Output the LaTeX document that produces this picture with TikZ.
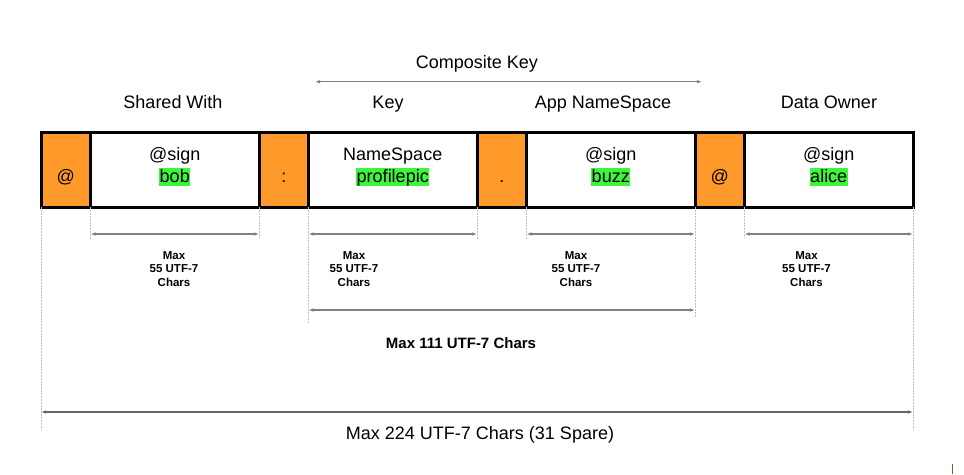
\documentclass[tikz,border=0pt]{standalone}
\usepackage{fontspec}
\setmainfont{Liberation Sans}
\usetikzlibrary{positioning,arrows.meta}
\definecolor{keyorange}{RGB}{255,153,41}
\definecolor{hlgreen}{RGB}{61,245,61}
\newcommand{\Hilite}[1]{{\setlength{\fboxsep}{0.6pt}\colorbox{hlgreen}{\rule[-3.6pt]{0pt}{16.6pt}#1}}}
\tikzset{ %inner sep = 0.5mm,
  >={Latex[length=5pt,width=3.5pt]},
  {cell/.style} ={rectangle,draw=black,line width=3pt,inner sep=0,outer sep=0,
    minimum height=75pt,text height=25pt,text depth=0pt,align=center,
    font=\fontsize{18}{22}\selectfont},
  {sep/.style} ={cell,fill=keyorange,minimum width=49.5pt},
  {field/.style} ={cell,fill=white,minimum width=168.5pt},
  {head/.style} ={anchor=base,font=\fontsize{18}{22}\selectfont},
  {note/.style} ={align=center,font=\bfseries\fontsize{11.5}{13.8}\selectfont},
  {guide/.style} ={draw=black!25,line width=0.8pt,dash pattern=on 1.5pt off 1.5pt},
  {dim/.style} ={draw=black!50,line width=1.3pt,<->},
 }
\begin{document}
\begin{tikzpicture}[x=1pt,y=-1pt]
        \useasboundingbox (0,0) rectangle (964,474);
        \node[sep] (at1) at (65.75,169.5) {@};
        \node[field] (sw) [right=0pt of at1] {@sign\\\Hilite{bob}};
        \node[sep] (colon) [right=0pt of sw] {:};
        \node[field] (ns) [right=0pt of colon] {NameSpace\\\Hilite{profilepic}};
        \node[sep] (dot) [right=0pt of ns] {.};
        \node[field] (app) [right=0pt of dot] {@sign\\\Hilite{buzz}};
        \node[sep] (at2) [right=0pt of app] {@};
        \node[field] (own) [right=0pt of at2] {@sign\\\Hilite{alice}};
        % headings
        \node[head] (ck) at (477,68) {Composite Key};
        \coordinate (ck-w) at (315,81.7);
        \coordinate (ck-e) at (702,81.7);
        \path[dim] (ck-w) -- (ck-e);
        \node[head] (sw-head) at (173,108) {Shared With};
        \node[head] (ns-head) at (388,108) {Key};
        \node[head] (app-head) at (603,108) {App NameSpace};
        \node[head] (own-head) at (829,108) {Data Owner};
        % guides
        \path[guide] (at1.south west) -- ++(0,223);
        \path[guide] (sw.south west) -- ++(0,33);
        \path[guide] (sw.south east) -- ++(0,31);
        \path[guide] (ns.south west) -- ++(0,116);
        \path[guide] (ns.south east) -- ++(0,33);
        \path[guide] (app.south west) -- ++(0,33);
        \path[guide] (app.south east) -- ++(0,111);
        \path[guide] (own.south west) -- ++(0,31);
        \path[guide] (own.south east) -- ++(0,223);
        % limits
        \path[dim] ([yshift=-27pt]sw.south west) -- ([yshift=-27pt]sw.south east);
        \path[dim] ([yshift=-27pt]ns.south west) -- ([yshift=-27pt]ns.south east);
        \path[dim] ([yshift=-27pt]app.south west) -- ([yshift=-27pt]app.south east);
        \path[dim] ([yshift=-27pt]own.south west) -- ([yshift=-27pt]own.south east);
        \node[note] (sw-max) at (174,269) {Max\\55 UTF-7\\Chars};
        \node[note] (ns-max) at (354,269) {Max\\55 UTF-7\\Chars};
        \node[note] (app-max) at (576,269) {Max\\55 UTF-7\\Chars};
        \node[note] (own-max) at (806.5,269) {Max\\55 UTF-7\\Chars};
        \path[dim] ([yshift=-103pt]ns.south west) -- ([yshift=-103pt]app.south east);
        \node[font=\bfseries\fontsize{15}{18}\selectfont] (key-max) at (461,343)
                {Max 111 UTF-7 Chars};
        \path[dim,draw=black!60] ([yshift=-205pt]at1.south west) -- ([yshift=-205pt]own.south east);
        \node[head] (all-max) at (480,439.3) {Max 224 UTF-7 Chars (31 Spare)};
        \draw[draw={rgb,255:red,122;green,92;blue,60},line width=1.5pt] (952.5,464) -- (952.5,474);
\end{tikzpicture}
\end{document}
